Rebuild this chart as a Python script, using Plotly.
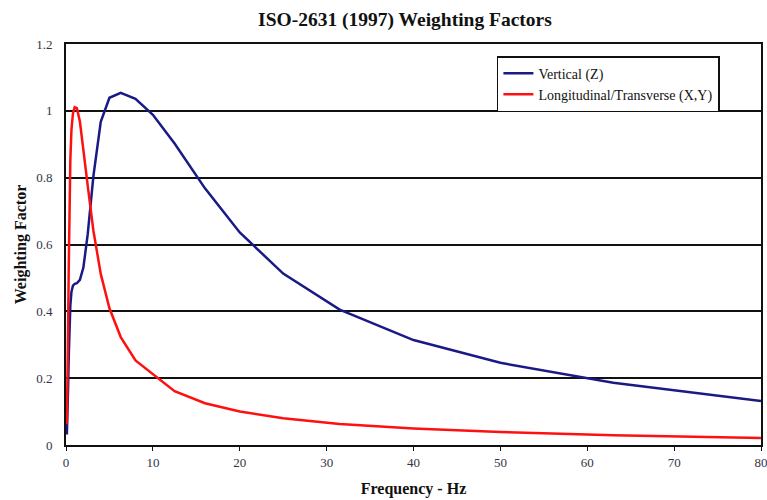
import plotly.graph_objects as go

freq = [0.1, 0.125, 0.16, 0.2, 0.25, 0.315, 0.4, 0.5, 0.63, 0.8, 1, 1.25, 1.6, 2, 2.5,
        3.15, 4, 5, 6.3, 8, 10, 12.5, 16, 20, 25, 31.5, 40, 50, 63, 80]
vertical_z = [0.0312, 0.0486, 0.079, 0.121, 0.182, 0.263, 0.352, 0.418, 0.459, 0.477,
              0.482, 0.484, 0.494, 0.531, 0.631, 0.804, 0.967, 1.039, 1.054, 1.036,
              0.988, 0.902, 0.768, 0.636, 0.513, 0.405, 0.314, 0.246, 0.186, 0.132]
horizontal_xy = [0.0624, 0.0973, 0.158, 0.243, 0.365, 0.530, 0.713, 0.853, 0.944, 0.992,
                 1.011, 1.008, 0.968, 0.890, 0.776, 0.642, 0.512, 0.409, 0.323, 0.253,
                 0.212, 0.161, 0.125, 0.100, 0.080, 0.0632, 0.0494, 0.0388, 0.0295, 0.0211]
x_ticks = [0, 10, 20, 30, 40, 50, 60, 70, 80]
y_ticks = [0, 0.2, 0.4, 0.6, 0.8, 1, 1.2]
y_tick_labels = ["0", "0.2", "0.4", "0.6", "0.8", "1", "1.2"]

serif = "Liberation Serif, Times New Roman, serif"

fig = go.Figure()
fig.add_trace(go.Scatter(x=freq, y=vertical_z, mode="lines", name="Vertical (Z)",
                         line=dict(color="#1a1a86", width=2.5)))
fig.add_trace(go.Scatter(x=freq, y=horizontal_xy, mode="lines",
                         name="Longitudinal/Transverse (X,Y)",
                         line=dict(color="#ff1010", width=2.5)))

fig.update_layout(
    width=767, height=500,
    margin=dict(l=66, r=6, t=44, b=55),
    paper_bgcolor="white", plot_bgcolor="white",
    font=dict(family=serif, color="#222222", size=13),
    title=dict(text="<b>ISO-2631 (1997) Weighting Factors</b>", x=0.528, xanchor="center",
               y=0.962, yanchor="middle", font=dict(family=serif, size=19.5, color="#111111")),
    showlegend=True,
    legend=dict(x=0.620, y=0.97, xanchor="left", yanchor="top",
                bordercolor="#111111", borderwidth=1.5, bgcolor="white",
                font=dict(family=serif, size=14, color="#111111"),
                tracegroupgap=0, itemwidth=30),
    xaxis=dict(range=[0, 80], tickvals=x_ticks, showgrid=False, zeroline=False,
               automargin=False, ticklabeloverflow="allow",
               showline=True, linecolor="#111111", linewidth=2, mirror=True,
               ticks="outside", ticklen=4, tickcolor="#111111",
               tickfont=dict(family=serif, size=13, color="#333344"),
               title=dict(text="<b>Frequency - Hz</b>", standoff=14,
                          font=dict(family=serif, size=16, color="#111111"))),
    yaxis=dict(range=[0, 1.2], tickvals=y_ticks, ticktext=y_tick_labels,
               showgrid=True, gridcolor="#111111", gridwidth=1.5, zeroline=False,
               automargin=False,
               showline=True, linecolor="#111111", linewidth=2, mirror=True,
               ticks="", ticklabelstandoff=9,
               tickfont=dict(family=serif, size=13, color="#333344"),
               title=dict(text="<b>Weighting Factor</b>", standoff=6,
                          font=dict(family=serif, size=16, color="#111111"))),
)

fig.write_html("out.html")
